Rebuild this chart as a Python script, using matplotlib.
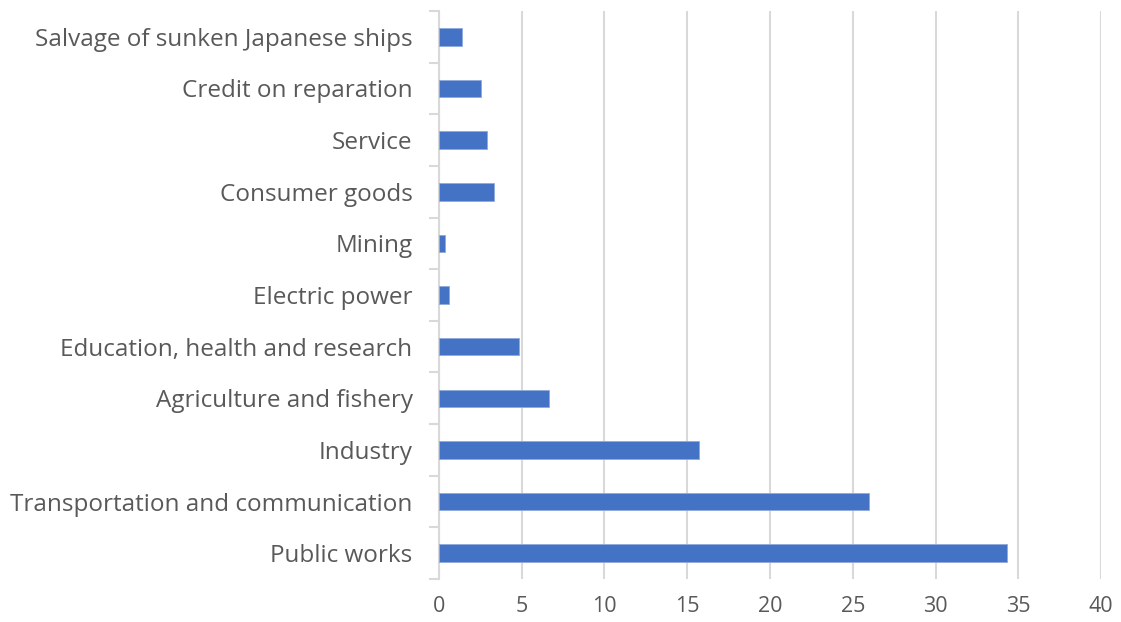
import matplotlib.pyplot as plt
import numpy as np

categories = ['Public works', 'Transportation and communication', 'Industry',
              'Agriculture and fishery', 'Education, health and research',
              'Electric power', 'Mining', 'Consumer goods', 'Service',
              'Credit on reparation', 'Salvage of sunken Japanese ships']
values = [34.3, 26.0, 15.73, 6.67, 4.81, 0.62, 0.38, 3.32, 2.88, 2.56, 1.41]
xticks = [0, 5, 10, 15, 20, 25, 30, 35, 40]

plt.rcParams['font.family'] = ['Open Sans', 'DejaVu Sans']

fig = plt.figure(figsize=(11.21, 6.22), dpi=100)
ax = fig.add_axes([0.3916, 0.0691, 0.5906, 0.9132])

y = np.arange(len(categories))
ax.barh(y, values, height=0.34, color='#4472c4', edgecolor='#8faadc', linewidth=0.6, zorder=3)

ax.set_xlim(0, 40)
ax.set_ylim(-0.5, len(categories) - 0.5)
ax.set_xticks(xticks)
ax.set_yticks(y)
ax.set_yticklabels(categories)
ax.set_yticks(np.arange(-0.5, len(categories), 1.0), minor=True)

ax.grid(axis='x', color='#d9d9d9', linewidth=1.5, zorder=0)
for s in ['top', 'right', 'bottom']:
    ax.spines[s].set_visible(False)
ax.spines['left'].set_color('#d9d9d9')
ax.spines['left'].set_linewidth(1.5)

ax.tick_params(axis='y', which='major', length=0, pad=19, labelsize=17.5, labelcolor='#595959')
ax.tick_params(axis='y', which='minor', length=7, width=1.5, color='#d9d9d9')
ax.tick_params(axis='x', length=0, pad=12.5, labelsize=15.5, labelcolor='#595959')

fig.savefig('out.png', dpi=100)
